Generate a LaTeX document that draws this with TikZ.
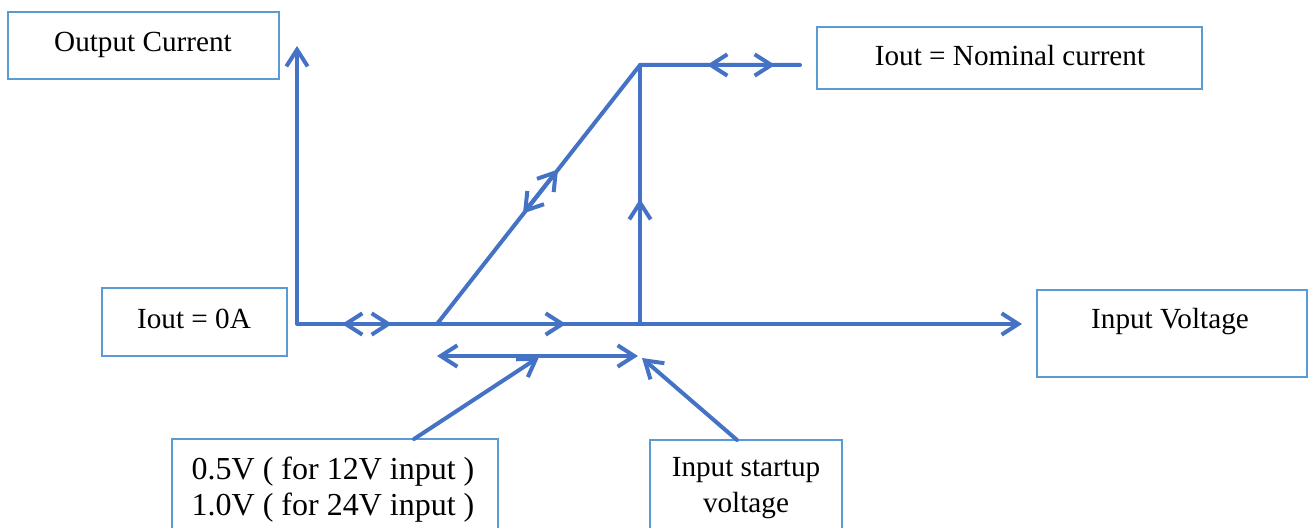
\documentclass[tikz,border=0pt]{standalone}
\usepackage{fontspec}
\setmainfont{Liberation Serif}
\usetikzlibrary{arrows.meta}
\definecolor{linkblue}{HTML}{4472C4}
\definecolor{boxblue}{HTML}{5B9BD5}
\tikzset{barb/.tip={Straight Barb[length=12.5pt,width=16pt]}}

\begin{document}
\begin{tikzpicture}[x=0.75pt,y=-0.75pt,
  conn/.style={draw=linkblue, line width=3pt, line cap=round, line join=round},
  tip/.style={-barb},
  both/.style={barb-barb},
  box/.style={draw=boxblue, line width=1.8pt, fill=white, inner sep=0pt, outer sep=0pt},
  lbl/.style={font=\fontsize{21.9}{26.5}\selectfont, align=center, inner sep=0pt, anchor=base},
  biglbl/.style={font=\fontsize{24}{26.5}\selectfont, align=center, inner sep=0pt, anchor=base}
]
\useasboundingbox (0,0) rectangle (1310,528);
\clip (0,0) rectangle (1310,528);

% label boxes (two-line labels are anchored at the baseline of their last line)
\node[box, minimum width=203.25pt, minimum height=50.25pt] (oc) at (143.5,45.5) {};
\node[lbl] (octxt) at (143,51.5) {Output Current};
\node[box, minimum width=288.75pt, minimum height=46.5pt] (nom) at (1009.5,58) {};
\node[lbl] (nomtxt) at (1010,66) {Iout = Nominal current};
\node[box, minimum width=138.75pt, minimum height=51pt] (zero) at (194.5,322) {};
\node[lbl] (zerotxt) at (194,328) {Iout = 0A};
\node[box, minimum width=202.5pt, minimum height=65.25pt] (iv) at (1172,333.5) {};
\node[lbl] (ivtxt) at (1170,328.5) {Input Voltage};
\node[box, minimum width=244.5pt, minimum height=90.75pt] (thr) at (335,499.5) {};
\node[biglbl] (thrtxt) at (333,515) {0.5V ( for 12V input )\\1.0V ( for 24V input )};
\node[box, minimum width=144pt, minimum height=90pt] (su) at (746,500) {};
\node[lbl] (sutxt) at (746,512) {Input startup\\voltage};

% curve points
\coordinate (ytop) at (297,46);
\coordinate (org) at (297,324);
\coordinate (xend) at (1022,324);
\coordinate (ramp) at (437,324);
\coordinate (knee) at (640,65);
\coordinate (topend) at (800,65);
\coordinate (step) at (640,324);

% axes
\draw[conn, both] (ytop) -- (org) -- (xend);
% ramp, plateau and vertical jump
\draw[conn] (ramp) -- (knee) -- (topend);
\draw[conn] (step) -- (knee);

% direction marks along the curve
\coordinate (a1) at (342,324); \coordinate (a2) at (392,324);
\draw[conn, both] (a1) -- (a2);
\coordinate (b1) at (520,324); \coordinate (b2) at (566,324);
\draw[conn, tip] (b1) -- (b2);
\coordinate (c1) at (640,250); \coordinate (c2) at (640,199);
\draw[conn, tip] (c1) -- (c2);
\coordinate (d1) at (523,213.5); \coordinate (d2) at (558,169.5);
\draw[conn, both] (d1) -- (d2);
\coordinate (e1) at (707,65); \coordinate (e2) at (775,65);
\draw[conn, both] (e1) -- (e2);

% startup window
\coordinate (w1) at (437,356); \coordinate (w2) at (638,356);
\draw[conn, both] (w1) -- (w2);
\coordinate (wmid) at (539,357);
\coordinate (wend) at (642,358);
\coordinate (thrtop) at (414,439);
\coordinate (sutop) at (737,440);
\draw[conn, tip] (thrtop) -- (wmid);
\draw[conn, tip] (sutop) -- (wend);
\end{tikzpicture}
\end{document}
